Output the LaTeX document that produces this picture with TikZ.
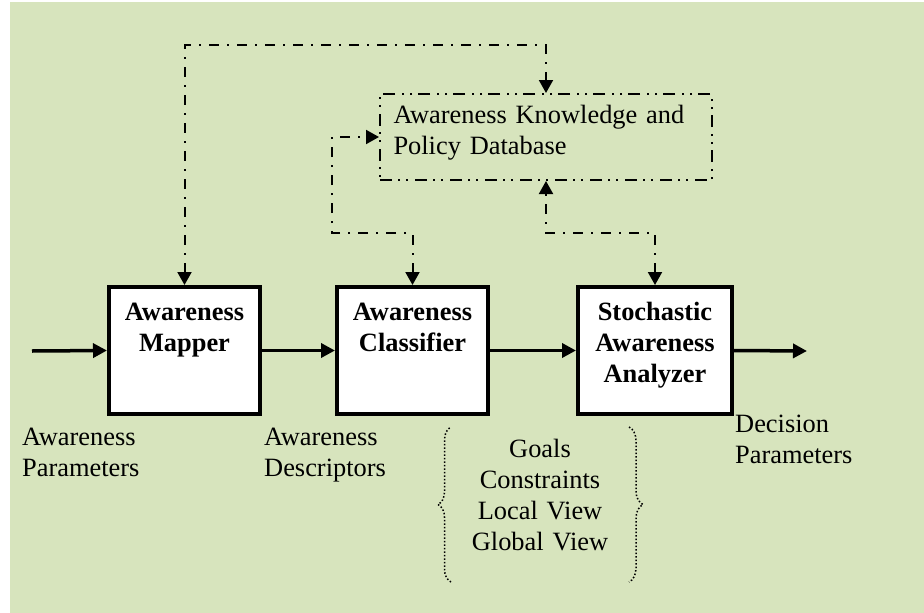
\documentclass[tikz,border=0pt]{standalone}
\usepackage{fontspec}
\setmainfont{Liberation Serif}
\usepackage{xcolor}
\usetikzlibrary{arrows.meta, positioning, decorations.pathreplacing}
\definecolor{panelgreen}{HTML}{D7E4BD}

\begin{document}
\begin{tikzpicture}[
  x=1pt, y=-1pt,
  every node/.style={font=\fontsize{26.4}{31}\selectfont, inner sep=0pt},
  block/.style={draw, line width=4pt, fill=white, minimum width=151pt, minimum height=127pt, text width=145pt, align=center, text height=33.5pt, text depth=93.5pt, font=\fontsize{26.4}{31}\selectfont\bfseries},
  dbase/.style={draw, line width=2pt, dash pattern=on 12pt off 6pt on 2pt off 6pt on 2pt off 7pt, minimum width=332pt, minimum height=86pt, text width=305pt, align=left, text height=29pt, text depth=57pt},
  caption/.style={text width=150pt, align=left, anchor=base west},
  flow/.style={-{Triangle[length=14pt, width=14pt]}, line width=3.5pt},
  link/.style={{Triangle[length=13pt, width=14pt]}-{Triangle[length=13pt, width=14pt]}, line width=2pt, dash pattern=on 10pt off 8pt on 2pt off 8pt},
  curly/.style={decorate, decoration={brace, amplitude=#1}, line width=1.5pt, dotted}
]
\useasboundingbox (0,0) rectangle (924,613);
\fill[white] (0,0) rectangle (924,613);
\fill[panelgreen] (10,2) rectangle (924,613);

% processing chain
\node[block] (mapper) at (184.5,350.5) {Awareness\\Mapper};
\node[block, right=73pt of mapper] (classifier) {Awareness\\Classifier};
\node[block, right=86pt of classifier, minimum width=154pt] (analyzer) {Stochastic\\Awareness\\Analyzer};
\node[dbase] (db) at (546,137) {Awareness Knowledge and\\Policy Database};

% labels
\node[caption] (inlabel) at (22,445.5) {Awareness\\Parameters};
\node[caption] (desclabel) at (264,445.5) {Awareness\\Descriptors};
\node[caption] (outlabel) at (735,432) {Decision\\Parameters};
\node[caption, align=center, anchor=base] (goals) at (540,457) {Goals\\Constraints\\Local View\\Global View};

\coordinate (src) at (32,351);
\coordinate (sink) at (807,351);
\coordinate (upper) at (185,45);
\coordinate (lower) at (332,233);

\draw[flow] (src) -- (mapper.west);
\draw[flow] (mapper) -- (classifier);
\draw[flow] (classifier) -- (analyzer);
\draw[flow] (analyzer.east) -- (sink);

\draw[link] (mapper.north) |- (db.north |- upper) -- (db.north);
\draw[link] (classifier.north) |- (lower) |- (db.west);
\draw[link] (analyzer.north) |- (db.south |- lower) -- (db.south);

\draw[curly=13pt] (451,582) -- (451,427);
\draw[curly=14pt] (629,427) -- (629,582);

\end{tikzpicture}
\end{document}
